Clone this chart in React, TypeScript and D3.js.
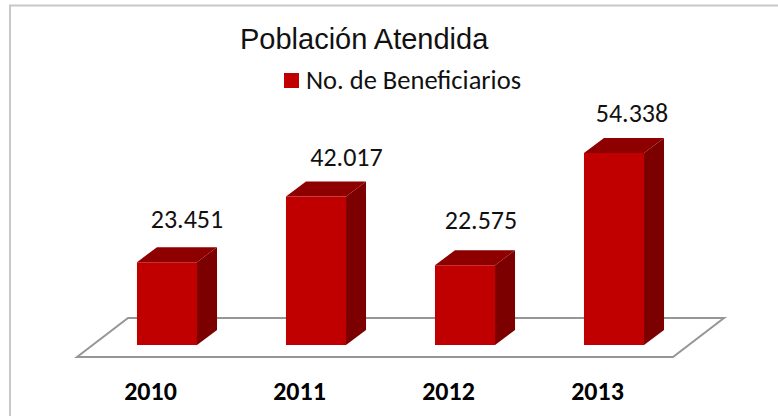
import * as d3 from "d3";

const years = ["2010", "2011", "2012", "2013"];
const beneficiarios = [23451, 42017, 22575, 54338];
const valueLabels = ["23.451", "42.017", "22.575", "54.338"];

// the value labels were dragged by hand in the original
const labelShiftX = [20, 30.5, 16, 18];
const labelShiftY = [-34, -30.5, -36, -31];

const W = 778;
const H = 416;
const baseY = 345;
const depthX = 20;
const depthY = -15;

const x = d3.scaleBand<string>().domain(years).range([92.5, 688.5]).paddingInner(0.597).paddingOuter(0.2985);
const y = d3.scaleLinear().domain([0, 54338]).range([baseY, 153]);

const floor = d3.line()([
  [77, 357],
  [128, 318],
  [724, 318],
  [673, 357],
]) + "Z";

function Bar({ year, value }: { year: string; value: number }) {
  const x0 = x(year)!;
  const x1 = x0 + x.bandwidth();
  const top = y(value);
  const line = d3.line();
  const front = line([[x0, top], [x1, top], [x1, baseY], [x0, baseY]]) + "Z";
  const cap = line([[x0, top], [x0 + depthX, top + depthY], [x1 + depthX, top + depthY], [x1, top]]) + "Z";
  const side = line([[x1, top], [x1 + depthX, top + depthY], [x1 + depthX, baseY + depthY], [x1, baseY]]) + "Z";
  return (
    <g>
      <path d={side} fill="#7c0000" />
      <path d={cap} fill="#8e0000" />
      <path d={front} fill="#c00000" />
    </g>
  );
}

export default function App() {
  const ink = "Carlito, 'Open Sans', 'Noto Sans', sans-serif";
  return (
    <svg width={W} height={H} style={{ position: "absolute", left: 0, top: 0 }}>
      <rect width={W} height={H} fill="#fff" />
      <path d="M10,416V5.5H778" fill="none" stroke="#c8c8c8" strokeWidth={2} />
      <path d={floor} fill="#fff" stroke="#969696" strokeWidth={2} />
      {years.map((yr, i) => (
        <Bar key={yr} year={yr} value={beneficiarios[i]} />
      ))}
      {years.map((yr, i) => (
        <text key={yr} x={x(yr)! + x.bandwidth() / 2 + labelShiftX[i]} y={y(beneficiarios[i]) + labelShiftY[i]} textAnchor="middle"
          fontFamily={ink} fontSize={26} fill="#111">{valueLabels[i]}</text>
      ))}
      {years.map((yr) => (
        <text key={yr} x={x(yr)! + x.bandwidth() / 2 - 16.5} y={400} textAnchor="middle"
          fontFamily={ink} fontSize={26} fontWeight="bold" fill="#000">{yr}</text>
      ))}
      <text x={240} y={49} fontFamily="'Liberation Sans', Arial, sans-serif" fontSize={29} fill="#111">Población Atendida</text>
      <rect x={284} y={73} width={15} height={15} fill="#c00000" />
      <text x={306} y={89} fontFamily={ink} fontSize={26.5} fill="#111">No. de Beneficiarios</text>
    </svg>
  );
}
